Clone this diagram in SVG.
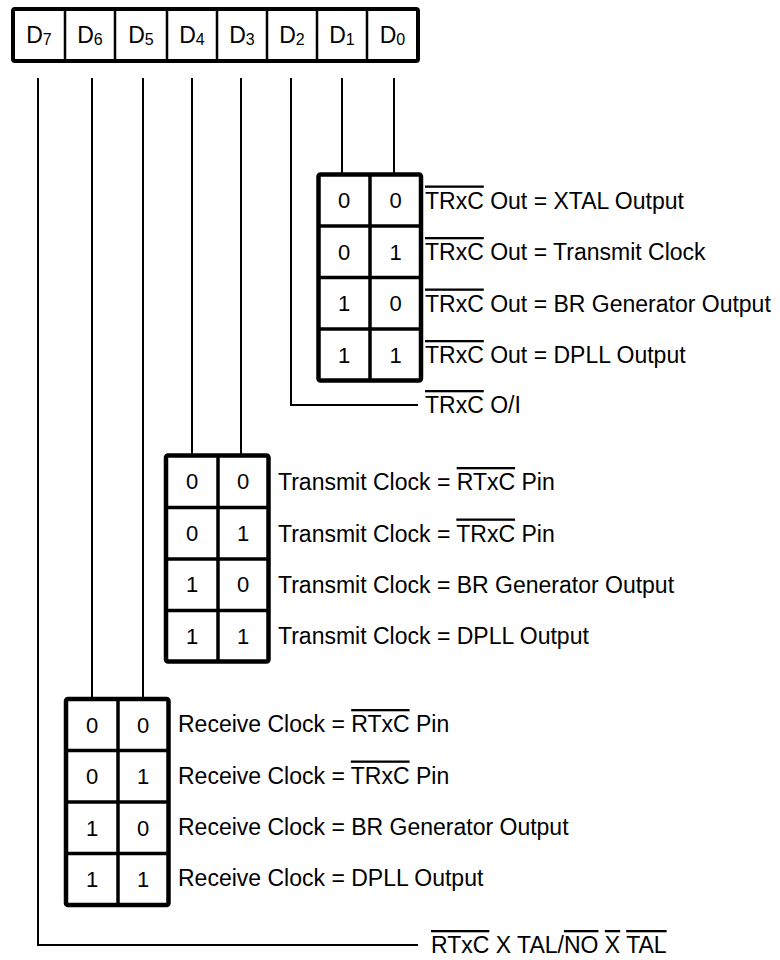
<svg xmlns="http://www.w3.org/2000/svg" width="780" height="960" viewBox="0 0 780 960">
<style>
text{font-family:"Liberation Sans",Arial,sans-serif;fill:#000}
.lbl{font-size:23px}
.bit{font-size:22px;text-anchor:middle}
.reg{font-size:23px;text-anchor:middle}
.sub{font-size:16px}
.ol{text-decoration:overline}
.box{fill:#fff;stroke:#000;stroke-width:4.5;stroke-linejoin:round}
.rbox{fill:#fff;stroke:#000;stroke-width:4;stroke-linejoin:round}
.div{stroke:#000;stroke-width:3.5}
.rdiv{stroke:#000;stroke-width:2.5}
.conn{fill:none;stroke:#000;stroke-width:2}
</style>
<rect width="780" height="960" fill="#fff"/>

<g id="connectors">
<line class="conn" x1="342" y1="78" x2="342" y2="174.5"/>
<line class="conn" x1="394" y1="78" x2="394" y2="174.5"/>
<polyline class="conn" points="291,78 291,405 418,405"/>
<line class="conn" x1="192" y1="78" x2="192" y2="455.5"/>
<line class="conn" x1="241" y1="78" x2="241" y2="455.5"/>
<line class="conn" x1="92" y1="78" x2="92" y2="699"/>
<line class="conn" x1="143" y1="78" x2="143" y2="699"/>
<polyline class="conn" points="38,78 38,945 418,945"/>
</g>

<g id="register">
<rect class="rbox" x="13" y="9" width="405" height="52" rx="2"/>
<line class="rdiv" x1="65" y1="9" x2="65" y2="61"/>
<line class="rdiv" x1="115" y1="9" x2="115" y2="61"/>
<line class="rdiv" x1="167" y1="9" x2="167" y2="61"/>
<line class="rdiv" x1="217" y1="9" x2="217" y2="61"/>
<line class="rdiv" x1="267" y1="9" x2="267" y2="61"/>
<line class="rdiv" x1="317" y1="9" x2="317" y2="61"/>
<line class="rdiv" x1="367" y1="9" x2="367" y2="61"/>
<text class="reg" x="39" y="43">D<tspan class="sub" dy="1.5">7</tspan></text>
<text class="reg" x="90" y="43">D<tspan class="sub" dy="1.5">6</tspan></text>
<text class="reg" x="141" y="43">D<tspan class="sub" dy="1.5">5</tspan></text>
<text class="reg" x="192" y="43">D<tspan class="sub" dy="1.5">4</tspan></text>
<text class="reg" x="242" y="43">D<tspan class="sub" dy="1.5">3</tspan></text>
<text class="reg" x="292" y="43">D<tspan class="sub" dy="1.5">2</tspan></text>
<text class="reg" x="342" y="43">D<tspan class="sub" dy="1.5">1</tspan></text>
<text class="reg" x="392.5" y="43">D<tspan class="sub" dy="1.5">0</tspan></text>
</g>

<g id="table-d1-d0">
<rect class="box" x="318.5" y="174.5" width="102.5" height="206" rx="2"/>
<line class="div" x1="370" y1="174.5" x2="370" y2="380.5"/>
<line class="div" x1="318.5" y1="226" x2="421" y2="226"/>
<line class="div" x1="318.5" y1="277.5" x2="421" y2="277.5"/>
<line class="div" x1="318.5" y1="329" x2="421" y2="329"/>
<text class="bit" x="344" y="208">0</text><text class="bit" x="395.5" y="208">0</text>
<text class="bit" x="344" y="259.5">0</text><text class="bit" x="395.5" y="259.5">1</text>
<text class="bit" x="344" y="311">1</text><text class="bit" x="395.5" y="311">0</text>
<text class="bit" x="344" y="362.5">1</text><text class="bit" x="395.5" y="362.5">1</text>
<text class="lbl" x="425" y="208.5"><tspan class="ol">TRxC</tspan> Out = XTAL Output</text>
<text class="lbl" x="425" y="260"><tspan class="ol">TRxC</tspan> Out = Transmit Clock</text>
<text class="lbl" x="425" y="311.5"><tspan class="ol">TRxC</tspan> Out = BR Generator Output</text>
<text class="lbl" x="425" y="363"><tspan class="ol">TRxC</tspan> Out = DPLL Output</text>
</g>

<g id="label-d2">
<text class="lbl" x="425" y="413"><tspan class="ol">TRxC</tspan> O/I</text>
</g>

<g id="table-d4-d3">
<rect class="box" x="166" y="455.5" width="102.5" height="206" rx="2"/>
<line class="div" x1="218" y1="455.5" x2="218" y2="661.5"/>
<line class="div" x1="166" y1="507.5" x2="268.5" y2="507.5"/>
<line class="div" x1="166" y1="559" x2="268.5" y2="559"/>
<line class="div" x1="166" y1="610.5" x2="268.5" y2="610.5"/>
<text class="bit" x="192" y="489">0</text><text class="bit" x="243" y="489">0</text>
<text class="bit" x="192" y="540.5">0</text><text class="bit" x="243" y="540.5">1</text>
<text class="bit" x="192" y="592">1</text><text class="bit" x="243" y="592">0</text>
<text class="bit" x="192" y="643.5">1</text><text class="bit" x="243" y="643.5">1</text>
<text class="lbl" x="278" y="490">Transmit Clock = <tspan class="ol">RTxC</tspan> Pin</text>
<text class="lbl" x="278" y="541.5">Transmit Clock = <tspan class="ol">TRxC</tspan> Pin</text>
<text class="lbl" x="278" y="592.5">Transmit Clock = BR Generator Output</text>
<text class="lbl" x="278" y="643.5">Transmit Clock = DPLL Output</text>
</g>

<g id="table-d6-d5">
<rect class="box" x="66" y="699" width="102.5" height="206" rx="2"/>
<line class="div" x1="118" y1="699" x2="118" y2="905"/>
<line class="div" x1="66" y1="750.5" x2="168.5" y2="750.5"/>
<line class="div" x1="66" y1="802" x2="168.5" y2="802"/>
<line class="div" x1="66" y1="853.5" x2="168.5" y2="853.5"/>
<text class="bit" x="92" y="732.5">0</text><text class="bit" x="143" y="732.5">0</text>
<text class="bit" x="92" y="784">0</text><text class="bit" x="143" y="784">1</text>
<text class="bit" x="92" y="835.5">1</text><text class="bit" x="143" y="835.5">0</text>
<text class="bit" x="92" y="887">1</text><text class="bit" x="143" y="887">1</text>
<text class="lbl" x="178" y="732">Receive Clock = <tspan class="ol">RTxC</tspan> Pin</text>
<text class="lbl" x="178" y="783.5">Receive Clock = <tspan class="ol">TRxC</tspan> Pin</text>
<text class="lbl" x="178" y="834.5">Receive Clock = BR Generator Output</text>
<text class="lbl" x="178" y="885.5">Receive Clock = DPLL Output</text>
</g>

<g id="label-d7">
<text class="lbl" x="431" y="953"><tspan class="ol">RTxC</tspan> X TAL/<tspan class="ol">NO</tspan> <tspan class="ol">X</tspan> <tspan class="ol">TAL</tspan></text>
</g>
</svg>
